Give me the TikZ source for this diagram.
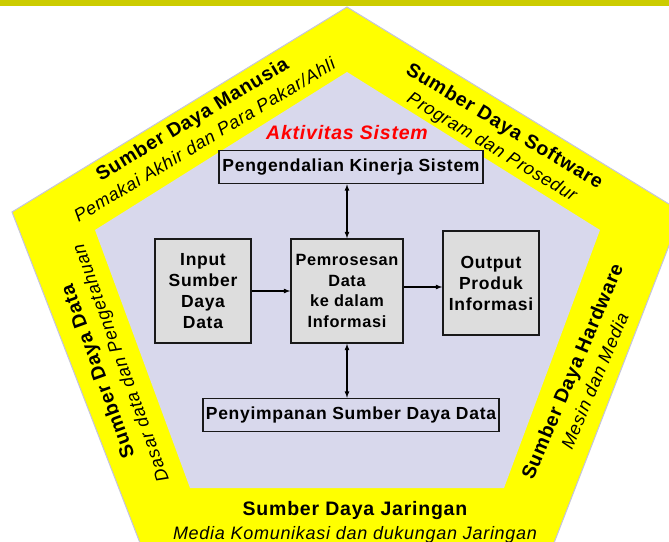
\documentclass[tikz,border=0pt]{standalone}
\usepackage{fontspec}
\setmainfont{Liberation Sans}[LetterSpace=4]
\usetikzlibrary{arrows}
\definecolor{bandolive}{RGB}{204,204,0}
\definecolor{padyellow}{RGB}{255,255,0}
\definecolor{lavender}{RGB}{216,216,236}
\definecolor{edgegray}{RGB}{196,196,220}
\definecolor{boxgray}{RGB}{221,221,221}
\newcommand{\srctext}[2]{{\bfseries\fontsize{19.5}{24}\selectfont #1}\\{\itshape\fontsize{18}{24}\selectfont #2}}

\begin{document}
\begin{tikzpicture}[x=1pt,y=-1pt,
procbox/.style={draw=black!90,line width=1.5pt,fill=boxgray,align=center,inner sep=0pt,
  minimum width=96pt,minimum height=104pt,font=\bfseries\fontsize{17.5}{21}\selectfont},
flatbox/.style={draw=black!90,line width=1.5pt,fill=lavender,inner sep=0pt,
  minimum height=33pt,font=\bfseries\fontsize{17.5}{21}\selectfont},
srclabel/.style={align=center,font=\fontsize{20}{24}\selectfont}]

\useasboundingbox (0,0) rectangle (669,541);
\clip (0,0) rectangle (669,541);
\fill[white] (0,0) rectangle (669,541);
\fill[bandolive] (0,0) rectangle (669,6);

% pentagons
\draw[edgegray,fill=padyellow,line width=1pt] (347,7) -- (682,212) -- (554,543) -- (140,543) -- (12,212) -- cycle;
\fill[lavender] (347,72) -- (600,230) -- (504,488) -- (190,488) -- (95,230) -- cycle;

\node (title) at (347,133) {\textcolor{red}{\bfseries\itshape\fontsize{19.5}{24}\selectfont Aktivitas Sistem}};

\node[flatbox,minimum width=264pt] (ctrl) at (351,167) {Pengendalian Kinerja Sistem};
\node[procbox] (input) at (203,291) {Input\\Sumber\\Daya\\Data};
\node[procbox,minimum width=112pt,font=\bfseries\fontsize{16.3}{20.5}\selectfont] (proc) at (347,291) {Pemrosesan\\Data\\ke dalam\\Informasi};
\node[procbox] (output) at (491,283) {Output\\Produk\\Informasi};
\node[flatbox,minimum width=296pt] (store) at (351,415) {Penyimpanan Sumber Daya Data};

\draw[-latex,line width=1.2pt] (input.east) -- (proc.west);
\draw[-latex,line width=1.2pt] ([yshift=4pt]proc.east) -- ([yshift=4pt]proc.east -| output.west);
\draw[latex-latex,line width=1.2pt] (proc.north) -- (proc.north |- ctrl.south);
\draw[latex-latex,line width=1.2pt] (proc.south) -- (proc.south |- store.north);

% resource labels
\node[srclabel,rotate=31] (human) at (198,129) {\srctext{Sumber Daya Manusia}{Pemakai Akhir dan Para Pakar/Ahli}};
\node[srclabel,rotate=-31] (soft) at (498,137) {\srctext{Sumber Daya Software}{Program dan Prosedur}};
\node[srclabel,rotate=110] (data) at (110,367) {\srctext{Sumber Daya Data}{Dasar data dan Pengetahuan}};
\node[srclabel,rotate=67] (hard) at (583,376) {\srctext{Sumber Daya Hardware}{Mesin dan Media}};
\node[srclabel] (net) at (355,522) {\srctext{Sumber Daya Jaringan}{Media Komunikasi dan dukungan Jaringan}};
\end{tikzpicture}
\end{document}
